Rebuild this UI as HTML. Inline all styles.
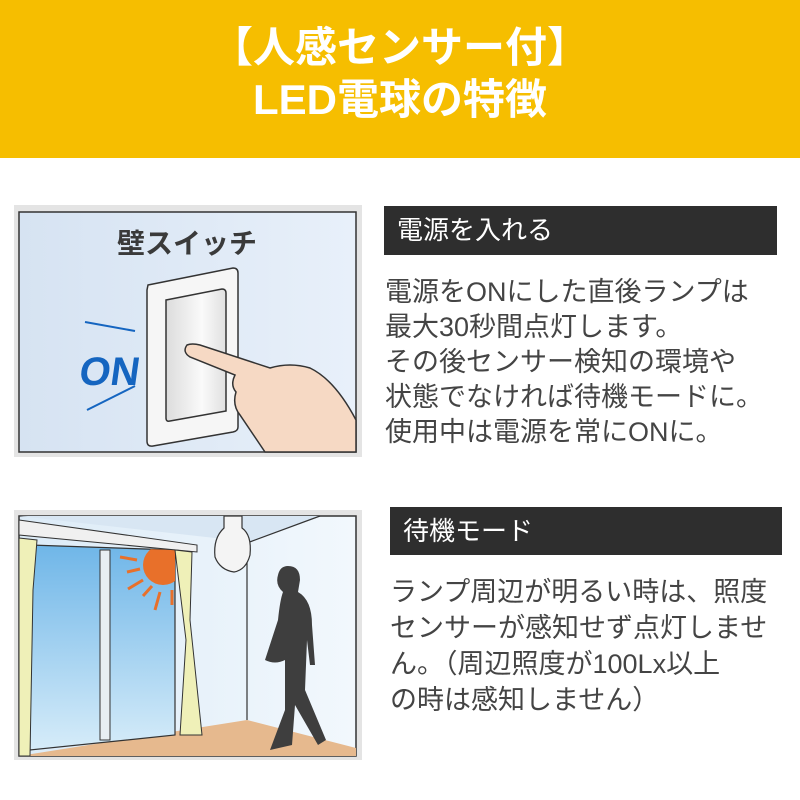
<!DOCTYPE html>
<html><head><meta charset="utf-8"><style>
*{margin:0;padding:0;box-sizing:border-box}
body{width:800px;height:800px;background:#fff;position:relative;overflow:hidden;font-family:"Liberation Sans","Noto Sans CJK JP",sans-serif}
.hdr{position:absolute;left:0;top:0;width:800px;height:158px;background:#F6BE00}
.t{position:absolute;left:0;width:800px;text-align:center;color:#fff;font-weight:bold;font-size:42px;line-height:50px}
.bar{position:absolute;background:#2e2e2e;color:#fff;font-size:26px;line-height:48px;padding-left:13px}
.txt{position:absolute;color:#444;font-size:27px;line-height:35px;white-space:nowrap}
</style></head><body>
<div class="hdr"></div>
<div class="t" style="top:23px">【人感センサー付】</div>
<div class="t" style="top:75px">LED電球の特徴</div>

<svg style="position:absolute;left:0;top:0" width="800" height="800">
<defs>
<linearGradient id="g1" x1="0" y1="0" x2="1" y2="0"><stop offset="0" stop-color="#d6e3f2"/><stop offset="1" stop-color="#e8f0fa"/></linearGradient>
<linearGradient id="sky" x1="0" y1="0" x2="0" y2="1"><stop offset="0" stop-color="#6fb6e8"/><stop offset="1" stop-color="#d6ecf9"/></linearGradient>
<linearGradient id="wall" x1="0" y1="0" x2="1" y2="0"><stop offset="0" stop-color="#dcebf7"/><stop offset="1" stop-color="#f2f8fd"/></linearGradient>
<linearGradient id="sw" x1="0" y1="0" x2="1" y2="0"><stop offset="0" stop-color="#dcdcdc"/><stop offset="0.6" stop-color="#fafafa"/><stop offset="1" stop-color="#e0e0e0"/></linearGradient>
<clipPath id="win"><path d="M30 545 L175 550 L175 735 L30 750 Z"/></clipPath>
</defs>
<rect x="14" y="205" width="348" height="252" fill="#e4e4e4"/>
<rect x="19" y="212" width="337" height="240" fill="url(#g1)" stroke="#333" stroke-width="1.5"/>
<text x="187" y="253" text-anchor="middle" font-size="28" font-weight="bold" fill="#3a3a3a" font-family="Liberation Sans,Noto Sans CJK JP,sans-serif">壁スイッチ</text>
<path d="M148 285 L233 268 Q238 268 238 273 L238 427 Q238 431 233 432 L153 446 Q147 447 147 441 L147 290 Z" fill="#f6f6f6" stroke="#333" stroke-width="1.5"/>
<path d="M166 300 L222 289 Q226 289 226 293 L226 411 L170 421 Q166 422 166 418 Z" fill="url(#sw)" stroke="#333" stroke-width="1.5"/>
<path d="M187 345 Q182 352 190 357 L235 375 Q230 385 236 392 Q232 405 240 415 L265 452 L356 452 L356 420 Q335 380 310 368 Q290 362 270 368 L200 345 Q192 343 187 345 Z" fill="#f6d9c4" stroke="#333" stroke-width="1.5"/>
<line x1="85" y1="322" x2="135" y2="331" stroke="#1565c0" stroke-width="2"/>
<line x1="87" y1="410" x2="135" y2="386" stroke="#1565c0" stroke-width="2"/>
<text x="82" y="385" font-size="40" font-weight="bold" fill="#1565c0" font-family="Liberation Sans,sans-serif" transform="skewX(-8) translate(50,0)">ON</text>

<rect x="14" y="510" width="348" height="250" fill="#e4e4e4"/>
<rect x="19" y="516" width="337" height="240" fill="url(#wall)" stroke="#333" stroke-width="1.5"/>
<path d="M19 516 L320 516 L247 543 L215 538 Z" fill="#d8e6f3"/>
<line x1="247" y1="543" x2="320" y2="516" stroke="#333" stroke-width="1.2"/>
<line x1="247" y1="543" x2="247" y2="720" stroke="#333" stroke-width="1.2"/>
<path d="M19 756 L247 720 L356 748 L356 756 Z" fill="#e6b98e"/>
<path d="M30 545 L175 550 L175 735 L30 750 Z" fill="url(#sky)" stroke="#333" stroke-width="1.2"/>
<rect x="100" y="550" width="10" height="190" fill="#e8eef2" stroke="#333"/>
<circle cx="163" cy="565" r="20" fill="#e8702a" clip-path="url(#win)"/>
<g stroke="#e8702a" stroke-width="3"><line x1="120" y1="557" x2="137" y2="560"/><line x1="127" y1="572" x2="140" y2="569"/><line x1="128" y1="589" x2="143" y2="580"/><line x1="143" y1="596" x2="152" y2="586"/><line x1="155" y1="610" x2="160" y2="592"/><line x1="172" y1="605" x2="172" y2="590"/></g>
<path d="M19 520 L197 545 L197 552 L19 535 Z" fill="#f0f0f0" stroke="#333"/>
<path d="M19 538 L37 540 L33 590 L30 756 L19 756 Z" fill="#eff0b8" stroke="#333"/>
<path d="M175 550 L192 552 L190 620 L202 735 L180 735 L186 640 Z" fill="#eff0b8" stroke="#333"/>
<path d="M224 516 L242 516 L242 528 Q252 535 250 555 Q246 570 234 572 Q220 570 215 557 Q213 538 224 528 Z" fill="#f4f4f4" stroke="#333" stroke-width="1.2"/>
<path d="M288 566 Q300 566 300 580 L298 592 Q312 600 312 625 L315 665 L310 665 L307 640 L305 690 L326 740 L318 745 L295 705 L292 745 L270 750 L285 710 L285 660 Q275 665 265 660 L278 620 Q280 600 283 592 Q275 585 278 575 Q280 566 288 566 Z" fill="#3e3e3e"/>
</svg>

<div class="bar" style="left:384px;top:206px;width:393px;height:49px">電源を入れる</div>
<div class="txt" style="left:385px;top:275px">電源をONにした直後ランプは<br>最大30秒間点灯します。<br>その後センサー検知の環境や<br>状態でなければ待機モードに。<br>使用中は電源を常にONに。</div>

<div class="bar" style="left:390px;top:507px;width:392px;height:48px">待機モード</div>
<div class="txt" style="left:390px;top:574px;line-height:36px">ランプ周辺が明るい時は、照度<br>センサーが感知せず点灯しませ<br>ん。（周辺照度が100Lx以上<br>の時は感知しません）</div>
</body></html>
